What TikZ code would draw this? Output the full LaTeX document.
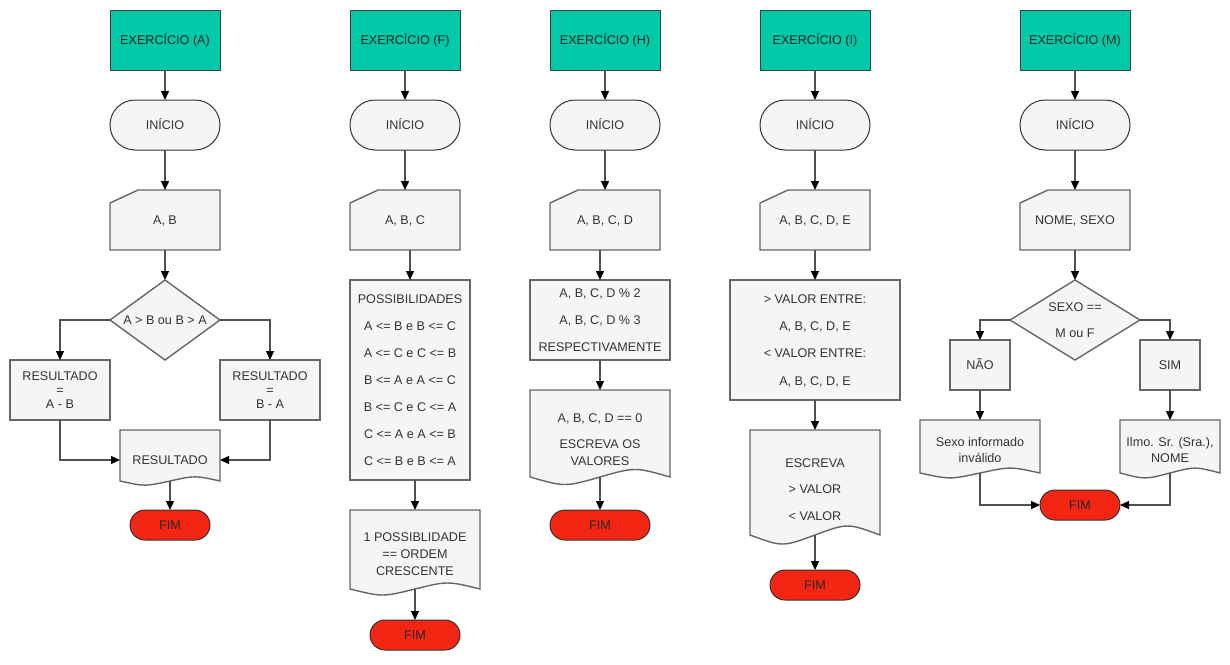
\documentclass[tikz,border=0pt]{standalone}
\usepackage{fontspec}
\setmainfont{Liberation Sans}
\usetikzlibrary{arrows.meta,backgrounds,calc}
\definecolor{hdrfill}{RGB}{0,201,167}
\definecolor{gfill}{RGB}{245,245,245}
\definecolor{gline}{RGB}{102,102,102}
\definecolor{fimfill}{RGB}{242,38,19}
\definecolor{conn}{RGB}{80,80,80}
\definecolor{tcol}{RGB}{51,51,51}
\newcommand\topph{\vphantom{Á}}
\newcommand\botph{\vphantom{(}}
\newcommand\maninput[1]{%
  \begin{scope}[on background layer]
    \path[gshape] ([yshift=-13pt]#1.north west) -- ([xshift=28pt]#1.north west)
      -- (#1.north east) -- (#1.south east) -- (#1.south west) -- cycle;
  \end{scope}}
\newcommand\docshape[2]{%
  \begin{scope}[on background layer]
    \path[gshape] (#1.north west) -- (#1.north east) -- (#1.south east)
      .. controls ($(#1.south east)!0.5!(#1.south)+(0,-#2)$) .. (#1.south)
      .. controls ($(#1.south west)!0.5!(#1.south)+(0,#2)$) .. (#1.south west)
      -- cycle;
  \end{scope}}
\newcommand\diamondshape[1]{%
  \begin{scope}[on background layer]
    \path[gshape] (#1.north) -- (#1.east) -- (#1.south) -- (#1.west) -- cycle;
  \end{scope}}
\tikzset{
  nbase/.style={inner sep=0pt, outer sep=0pt, align=center, text=tcol,
    font=\fontsize{12.6}{15}\selectfont},
  hdrbox/.style={nbase, draw=black!75, line width=1pt, fill=hdrfill,
    minimum width=110pt, minimum height=60pt, text=black!85},
  termbox/.style={nbase, draw=black!80, line width=1pt, fill=gfill,
    rounded corners=25pt, minimum width=110pt, minimum height=50pt},
  fimbox/.style={nbase, draw=black!80, line width=1pt, fill=fimfill,
    rounded corners=15pt, minimum height=30pt, text=black!85},
  gbox/.style={nbase, draw=gline, line width=1.4pt, fill=gfill},
  freebox/.style={nbase},
  gshape/.style={fill=gfill, draw=gline, line width=1.4pt},
  arrw/.style={draw=conn, line width=1.3pt,
    -{Triangle[length=9pt,width=8pt,color=black]}},
}
\begin{document}
\begin{tikzpicture}[x=1pt,y=-1pt]
\begin{scope}[on background layer]
  \fill[white] (0,0) rectangle (1230,664);
\end{scope}
\useasboundingbox (0,0) rectangle (1230,664);

% ---------------- Column A
\node[hdrbox] (hA) at (165,40) {\topph EXERCÍCIO (A)\botph};
\node[termbox] (iA) at (165,125) {\topph INÍCIO\botph};
\node[freebox, minimum width=110pt, minimum height=60pt] (inA) at (165,220) {\topph A, B\botph};
\maninput{inA}
\node[freebox, minimum width=110pt, minimum height=80pt] (dA) at (165,320) {\topph A > B ou B > A\botph};
\diamondshape{dA}
\node[gbox, minimum width=100pt, minimum height=60pt, font=\fontsize{12.6}{14}\selectfont] (rA1) at (60,390) {\topph RESULTADO\\=\\A - B\botph};
\node[gbox, minimum width=100pt, minimum height=60pt, font=\fontsize{12.6}{14}\selectfont] (rA2) at (270,390) {\topph RESULTADO\\=\\B - A\botph};
\node[freebox, minimum width=100pt, minimum height=51pt] (docA) at (170,455.5) {};
\docshape{docA}{5.5}
\node[freebox] (tdA) at (170,460) {\topph RESULTADO\botph};
\node[fimbox, minimum width=80pt] (fA) at (170,525) {\topph FIM\botph};

\draw[arrw] (hA.south) -- (iA.north);
\draw[arrw] (iA.south) -- (inA.north);
\draw[arrw] (inA.south) -- (dA.north);
\draw[arrw] (dA.west) -| (rA1.north);
\draw[arrw] (dA.east) -| (rA2.north);
\draw[arrw] (rA1.south) |- (docA.west |- tdA.center);
\draw[arrw] (rA2.south) |- (docA.east |- tdA.center);
\draw[arrw] (docA.south) -- (fA.north);

% ---------------- Column F
\node[hdrbox] (hF) at (405,40) {\topph EXERCÍCIO (F)\botph};
\node[termbox] (iF) at (405,125) {\topph INÍCIO\botph};
\node[freebox, minimum width=110pt, minimum height=60pt] (inF) at (405,220) {\topph A, B, C\botph};
\maninput{inF}
\node[gbox, minimum width=120pt, minimum height=200pt, font=\fontsize{12.6}{27}\selectfont] (possF) at (410,380)
  {\topph POSSIBILIDADES\\A <= B e B <= C\\A <= C e C <= B\\B <= A e A <= C\\B <= C e C <= A\\C <= A e A <= B\\C <= B e B <= A\botph};
\node[freebox, minimum width=130pt, minimum height=79pt] (docF) at (415,549.5) {};
\docshape{docF}{8}
\node[freebox, font=\fontsize{12.6}{17}\selectfont] (tdF) at (415,554) {\topph 1 POSSIBLIDADE\\== ORDEM\\CRESCENTE\botph};
\node[fimbox, minimum width=90pt] (fF) at (415,635) {\topph FIM\botph};

\draw[arrw] (hF.south) -- (iF.north);
\draw[arrw] (iF.south) -- (inF.north);
\draw[arrw] (possF.north |- inF.south) -- (possF.north);
\draw[arrw] (docF.north |- possF.south) -- (docF.north);
\draw[arrw] (docF.south) -- (fF.north);

% ---------------- Column H
\node[hdrbox] (hH) at (605,40) {\topph EXERCÍCIO (H)\botph};
\node[termbox] (iH) at (605,125) {\topph INÍCIO\botph};
\node[freebox, minimum width=110pt, minimum height=60pt] (inH) at (605,220) {\topph A, B, C, D\botph};
\maninput{inH}
\node[gbox, minimum width=140pt, minimum height=80pt, font=\fontsize{12.6}{27}\selectfont] (boxH) at (600,320)
  {\topph A, B, C, D \% 2\\A, B, C, D \% 3\\RESPECTIVAMENTE\botph};
\node[freebox, minimum width=140pt, minimum height=87pt] (docH) at (600,433.5) {};
\docshape{docH}{10}
\node[freebox, font=\fontsize{12.6}{17}\selectfont] (tdH) at (600,439.5) {\topph A, B, C, D == 0\\[9pt]ESCREVA OS\\VALORES\botph};
\node[fimbox, minimum width=100pt] (fH) at (600,525) {\topph FIM\botph};

\draw[arrw] (hH.south) -- (iH.north);
\draw[arrw] (iH.south) -- (inH.north);
\draw[arrw] (boxH.north |- inH.south) -- (boxH.north);
\draw[arrw] (boxH.south) -- (docH.north);
\draw[arrw] (docH.south) -- (fH.north);

% ---------------- Column I
\node[hdrbox] (hI) at (815,40) {\topph EXERCÍCIO (I)\botph};
\node[termbox] (iI) at (815,125) {\topph INÍCIO\botph};
\node[freebox, minimum width=110pt, minimum height=60pt] (inI) at (815,220) {\topph A, B, C, D, E\botph};
\maninput{inI}
\node[gbox, minimum width=170pt, minimum height=120pt, font=\fontsize{12.6}{27.3}\selectfont] (boxI) at (815,340)
  {\topph > VALOR ENTRE:\\A, B, C, D, E\\< VALOR ENTRE:\\A, B, C, D, E\botph};
\node[freebox, minimum width=130pt, minimum height=105pt] (docI) at (815,482.5) {};
\docshape{docI}{12}
\node[freebox, font=\fontsize{12.6}{26.5}\selectfont] (tdI) at (815,489.5) {\topph ESCREVA\\> VALOR\\< VALOR\botph};
\node[fimbox, minimum width=90pt] (fI) at (815,585) {\topph FIM\botph};

\draw[arrw] (hI.south) -- (iI.north);
\draw[arrw] (iI.south) -- (inI.north);
\draw[arrw] (inI.south) -- (boxI.north);
\draw[arrw] (boxI.south) -- (docI.north);
\draw[arrw] (docI.south) -- (fI.north);

% ---------------- Column M
\node[hdrbox] (hM) at (1075,40) {\topph EXERCÍCIO (M)\botph};
\node[termbox] (iM) at (1075,125) {\topph INÍCIO\botph};
\node[freebox, minimum width=110pt, minimum height=60pt] (inM) at (1075,220) {\topph NOME, SEXO\botph};
\maninput{inM}
\node[freebox, minimum width=130pt, minimum height=80pt, font=\fontsize{12.6}{26}\selectfont] (dM) at (1075,320) {\topph SEXO ==\\M ou F\botph};
\diamondshape{dM}
\node[gbox, minimum width=60pt, minimum height=50pt] (nao) at (980,365) {\topph NÃO\botph};
\node[gbox, minimum width=60pt, minimum height=50pt] (sim) at (1170,365) {\topph SIM\botph};
\node[freebox, minimum width=120pt, minimum height=53pt] (docM1) at (980,446.5) {};
\docshape{docM1}{6.5}
\node[freebox, font=\fontsize{12.6}{16}\selectfont] (tdM1) at (980,450) {\topph Sexo informado\\inválido\botph};
\node[freebox, minimum width=100pt, minimum height=53pt] (docM2) at (1170,446.5) {};
\docshape{docM2}{6.5}
\node[freebox, font=\fontsize{12.6}{16}\selectfont] (tdM2) at (1170,450) {\topph Ilmo. Sr. (Sra.),\\NOME\botph};
\node[fimbox, minimum width=80pt] (fM) at (1080,505) {\topph FIM\botph};

\draw[arrw] (hM.south) -- (iM.north);
\draw[arrw] (iM.south) -- (inM.north);
\draw[arrw] (inM.south) -- (dM.north);
\draw[arrw] (dM.west) -| (nao.north);
\draw[arrw] (dM.east) -| (sim.north);
\draw[arrw] (nao.south) -- (docM1.north);
\draw[arrw] (sim.south) -- (docM2.north);
\draw[arrw] (docM1.south) |- (fM.west);
\draw[arrw] (docM2.south) |- (fM.east);
\end{tikzpicture}
\end{document}
